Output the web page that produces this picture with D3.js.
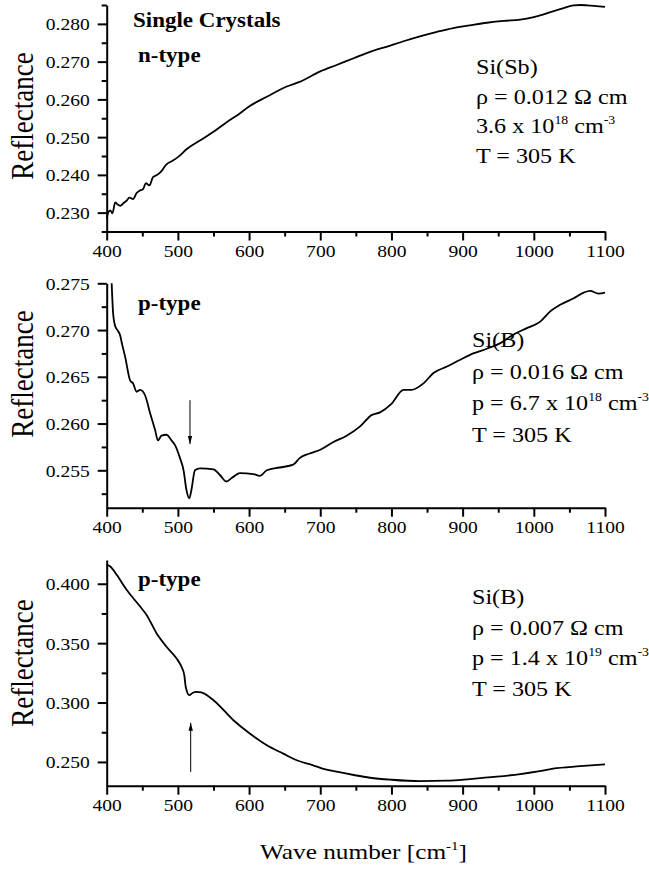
<!DOCTYPE html>
<html>
<head>
<meta charset="utf-8">
<script src="https://cdn.jsdelivr.net/npm/d3@7"></script>
<style>
  body { margin: 0; background: #fff; }
  svg text { font-family: "Liberation Serif", "Times New Roman", serif; fill: #000; }
  .axis path, .axis line { stroke: #000; stroke-width: 2px; }
  .curve { fill: none; stroke: #000; stroke-width: 1.8px; stroke-linejoin: round; }
</style>
</head>
<body>
<div id="chart"></div>
<script>
// ---- data ----
// top panel: n-type Si(Sb)
var nWave = [400, 402, 405, 408, 412, 415, 419, 424, 428, 432, 437, 442, 446, 451, 455, 460, 465, 470, 476, 484,
  492, 500, 513, 531, 550, 569, 585, 599, 625, 653, 672, 700, 723, 747, 770, 794, 817, 840, 864, 887,
  910, 934, 958, 981, 1000, 1015, 1028, 1042, 1056, 1066, 1075, 1088, 1100];
var nRefl = [0.2285, 0.2300, 0.2306, 0.2298, 0.2327, 0.2322, 0.2318, 0.2326, 0.2332, 0.2340, 0.2336, 0.2352, 0.2358, 0.2362, 0.2378, 0.2372, 0.2394, 0.2399, 0.2408, 0.2428,
  0.2437, 0.2447, 0.2469, 0.2491, 0.2514, 0.2540, 0.2560, 0.2580, 0.2607, 0.2634, 0.2647, 0.2674, 0.2691, 0.2709, 0.2726, 0.2740, 0.2754, 0.2767, 0.2779, 0.2789,
  0.2796, 0.2803, 0.2808, 0.2811, 0.2818, 0.2826, 0.2834, 0.2842, 0.2849, 0.2850, 0.2849, 0.2847, 0.2845];

// middle panel: p-type Si(B), 0.016 ohm cm
var pWave = [407, 409, 412, 415, 419, 421, 426, 433, 437, 442, 447, 454, 461, 468, 472, 477, 484, 491, 496, 503,
  508, 512, 516, 519, 524, 531, 550, 559, 568, 576, 587, 606, 615, 625, 643, 662, 671, 685, 700, 718,
  737, 756, 772, 784, 800, 817, 828, 845, 859, 878, 896, 915, 934, 953, 971, 990, 1009, 1023, 1037, 1056,
  1070, 1079, 1091, 1100];
var pRefl = [0.2750, 0.2718, 0.2704, 0.2700, 0.2694, 0.2687, 0.2671, 0.2646, 0.2643, 0.2634, 0.2636, 0.2630, 0.2611, 0.2593, 0.2582, 0.2587, 0.2588, 0.2582, 0.2577, 0.2563,
  0.2550, 0.2529, 0.2520, 0.2529, 0.2550, 0.2552, 0.2551, 0.2545, 0.2538, 0.2542, 0.2547, 0.2546, 0.2544, 0.2550, 0.2553, 0.2556, 0.2563, 0.2568, 0.2572, 0.2580,
  0.2587, 0.2597, 0.2609, 0.2612, 0.2621, 0.2636, 0.2636, 0.2643, 0.2654, 0.2661, 0.2668, 0.2675, 0.2680, 0.2686, 0.2695, 0.2702, 0.2709, 0.2720, 0.2727, 0.2734,
  0.2740, 0.2742, 0.2739, 0.2740];

// bottom panel: p-type Si(B), 0.007 ohm cm
var qWave = [400, 405, 414, 428, 447, 456, 470, 484, 498, 505, 509, 511, 516, 521, 526, 533, 550, 578, 601, 625,
  648, 667, 690, 700, 723, 747, 770, 800, 840, 878, 910, 948, 981, 1004, 1027, 1065, 1100];
var qRefl = [0.4160, 0.4146, 0.4076, 0.3949, 0.3808, 0.3738, 0.3584, 0.3470, 0.3372, 0.3302, 0.3231, 0.3133, 0.3062, 0.3082, 0.3090, 0.3085, 0.3020, 0.2851, 0.2739, 0.2640,
  0.2570, 0.2514, 0.2471, 0.2450, 0.2418, 0.2390, 0.2367, 0.2350, 0.2338, 0.2342, 0.2356, 0.2376, 0.2398, 0.2418, 0.2444, 0.2464, 0.2480];

// ticks
var xMajor = [400, 500, 600, 700, 800, 900, 1000, 1100];
var xMinor = [450, 550, 650, 750, 850, 950, 1050];
var nMajor = [0.230, 0.240, 0.250, 0.260, 0.270, 0.280];
var nMinor = [0.225, 0.235, 0.245, 0.255, 0.265, 0.275, 0.285];
var pMajor = [0.255, 0.260, 0.265, 0.270, 0.275];
var pMinor = [0.2525, 0.2575, 0.2625, 0.2675, 0.2725];
var qMajor = [0.250, 0.300, 0.350, 0.400];
var qMinor = [0.275, 0.325, 0.375];

// sample notes: [text, superscript, text, superscript ...]
var nNotes = [["Si(Sb)"], ["\u03c1 = 0.012 \u03a9 cm"], ["3.6 x 10", "18", " cm", "-3"], ["T = 305 K"]];
var pNotes = [["Si(B)"], ["\u03c1 = 0.016 \u03a9 cm"], ["p = 6.7 x 10", "18", " cm", "-3"], ["T = 305 K"]];
var qNotes = [["Si(B)"], ["\u03c1 = 0.007 \u03a9 cm"], ["p = 1.4 x 10", "19", " cm", "-3"], ["T = 305 K"]];

var svgWidth = 649;
var svgHeight = 869;
var SX = 1.15; // text in the original is a bit wider than the font

var svg = d3.select("#chart")
  .append("svg")
  .attr("width", svgWidth)
  .attr("height", svgHeight);

var xScale = d3.scaleLinear().domain([400, 1100]).range([106.7, 605]);

var panels = [
  { wave: nWave, refl: nRefl, domain: [0.225, 0.285], range: [231.5, 5], major: nMajor, minor: nMinor,
    type: "n-type", typeY: 62, notes: nNotes, noteX: 476, noteY: 74, noteGap: 29.5, labelY: 116, arrow: null },
  { wave: pWave, refl: pRefl, domain: [0.251, 0.275], range: [507.7, 283.3], major: pMajor, minor: pMinor,
    type: "p-type", typeY: 310, notes: pNotes, noteX: 472, noteY: 347, noteGap: 31.5, labelY: 374, arrow: [517, 0.2625, 0.2578] },
  { wave: qWave, refl: qRefl, domain: [0.23, 0.42], range: [785.7, 560], major: qMajor, minor: qMinor,
    type: "p-type", typeY: 586, notes: qNotes, noteX: 472, noteY: 604, noteGap: 30.7, labelY: 663, arrow: [518, 0.2416, 0.2830] }
];

// small arrowhead
svg.append("defs").append("marker")
  .attr("id", "head")
  .attr("viewBox", "0 0 8 6")
  .attr("refX", 8)
  .attr("refY", 3)
  .attr("markerWidth", 8)
  .attr("markerHeight", 6)
  .attr("markerUnits", "userSpaceOnUse")
  .attr("orient", "auto")
  .append("path")
  .attr("d", "M0,0.8 L8,3 L0,5.2 Z")
  .attr("fill", "#000");

function stretch(x, y) {
  return `translate(${x},${y}) scale(${SX},1)`;
}

panels.forEach(function(p) {
  var yScale = d3.scaleLinear().domain(p.domain).range(p.range);
  var bottom = p.range[0];

  // x axis
  var xAxis = svg.append("g")
    .attr("class", "axis")
    .attr("transform", `translate(0, ${bottom})`)
    .call(d3.axisBottom(xScale).tickValues(xMajor).tickSize(9).tickSizeOuter(0).tickFormat(d3.format("d")))
    .attr("font-size", null)
    .attr("font-family", null);
  xAxis.selectAll(".tick text")
    .attr("y", null)
    .attr("dy", null)
    .attr("transform", stretch(0, 25))
    .style("font-size", "17px");

  svg.append("g")
    .attr("class", "axis")
    .attr("transform", `translate(0, ${bottom})`)
    .call(d3.axisBottom(xScale).tickValues(xMinor).tickSize(5).tickFormat(""))
    .select(".domain").remove();

  // y axis
  var yAxis = svg.append("g")
    .attr("class", "axis")
    .attr("transform", `translate(${xScale(400)}, 0)`)
    .call(d3.axisLeft(yScale).tickValues(p.major).tickSize(9).tickSizeOuter(0).tickFormat(d3.format(".3f")))
    .attr("font-size", null)
    .attr("font-family", null);
  yAxis.selectAll(".tick text")
    .attr("x", null)
    .attr("dy", "0.35em")
    .attr("transform", stretch(-17, 0))
    .style("font-size", "17px");

  svg.append("g")
    .attr("class", "axis")
    .attr("transform", `translate(${xScale(400)}, 0)`)
    .call(d3.axisLeft(yScale).tickValues(p.minor).tickSize(5).tickFormat(""))
    .select(".domain").remove();

  // spectrum
  var line = d3.line()
    .x((d, i) => xScale(p.wave[i]))
    .y(d => yScale(d))
    .curve(d3.curveMonotoneX);

  svg.append("path")
    .datum(p.refl)
    .attr("class", "curve")
    .attr("d", line);

  // axis title
  svg.append("text")
    .attr("transform", `translate(33, ${p.labelY}) scale(${SX},1) rotate(-90)`)
    .attr("text-anchor", "middle")
    .style("font-size", "27px")
    .text("Reflectance");

  // doping type
  svg.append("text")
    .attr("transform", stretch(138, p.typeY))
    .style("font-size", "20px")
    .style("font-weight", "bold")
    .text(p.type);

  // sample notes
  p.notes.forEach(function(parts, i) {
    var t = svg.append("text")
      .attr("transform", stretch(p.noteX, p.noteY + i * p.noteGap))
      .style("font-size", "21px");
    parts.forEach(function(s, j) {
      var sup = j % 2 === 1;
      t.append("tspan")
        .attr("dy", j === 0 ? 0 : (sup ? -9 : 9))
        .style("font-size", sup ? "12px" : "21px")
        .text(s);
    });
  });

  // marker arrow at the 517 cm-1 feature
  if (p.arrow) {
    svg.append("line")
      .attr("x1", xScale(p.arrow[0]))
      .attr("x2", xScale(p.arrow[0]))
      .attr("y1", yScale(p.arrow[1]))
      .attr("y2", yScale(p.arrow[2]))
      .attr("stroke", "#000")
      .attr("stroke-width", 1)
      .attr("marker-end", "url(#head)");
  }
});

svg.append("text")
  .attr("transform", stretch(133, 27))
  .style("font-size", "20px")
  .style("font-weight", "bold")
  .text("Single Crystals");

var xTitle = svg.append("text")
  .attr("transform", stretch(260, 859))
  .style("font-size", "22px");
xTitle.append("tspan").text("Wave number [cm");
xTitle.append("tspan").attr("dy", -9).style("font-size", "13px").text("-1");
xTitle.append("tspan").attr("dy", 9).text("]");
</script>
</body>
</html>
